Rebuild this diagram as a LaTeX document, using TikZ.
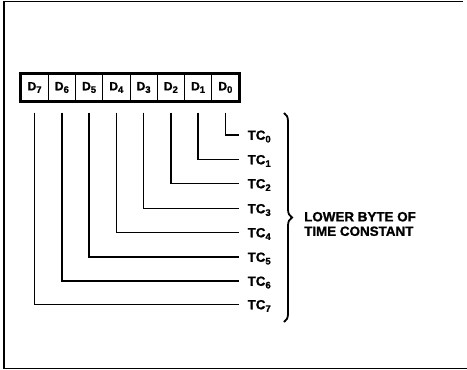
\documentclass[tikz,border=0pt]{standalone}
\usepackage{fontspec}
\setmainfont{Liberation Sans}[BoldFeatures={FakeBold=1.2}]
\usetikzlibrary{decorations.pathreplacing}
\begin{document}
\begin{tikzpicture}[x=1pt,y=-1pt,
  cell/.style={draw,line width=1pt,minimum width=27.25pt,minimum height=27pt,inner sep=0pt,
    font=\fontsize{12}{12}\selectfont\bfseries},
  tclabel/.style={anchor=base west,inner xsep=8.5pt,inner ysep=0pt,font=\fontsize{13.3}{13}\selectfont\bfseries},
  wire/.style={line width=1.6pt},
  note/.style={anchor=west,align=left,inner sep=0pt,font=\fontsize{13.4}{14.5}\selectfont\bfseries}]
\useasboundingbox (0,0) rectangle (467,370);
\newcommand{\sbs}[1]{\raisebox{-2.6pt}{\fontsize{9.5}{9.5}\selectfont #1}}
% frame
\draw[line width=1.2pt] (463,1.5) -- (4,1.5) -- (4,368.5) -- (467,368.5);
% register cells
\foreach \i/\b in {0/7,1/6,2/5,3/4,4/3,5/2,6/1,7/0}{
  \node[cell] (d\b) at ({21+27.25*(\i+0.5)},87.5) {D\sbs{\b}};
}
\draw[line width=2.4pt] (d7.north west) rectangle (d0.south east);
% TC labels
\foreach \b/\y in {0/135,1/159.5,2/183.5,3/208.5,4/232.5,5/257,6/281,7/304.5}{
  \node[tclabel] (tc\b) at (239,\y+4.8) {TC\sbs{\b}};
}
% connectors
\foreach \b/\y in {0/135,1/159.5,2/183.5,3/208.5,4/232.5,5/257,6/281,7/304.5}{
  \draw[wire] ([yshift=-11pt]d\b.south) |- (239,\y);
}
% brace
\coordinate (bt) at (284,113);
\coordinate (bb) at (284,322);
\draw[line width=1.8pt,decorate,decoration={brace,amplitude=8pt}] (bt) -- (bb);
\node[note] (lb) at (304,224) {LOWER BYTE OF\\TIME CONSTANT};
\end{tikzpicture}
\end{document}
